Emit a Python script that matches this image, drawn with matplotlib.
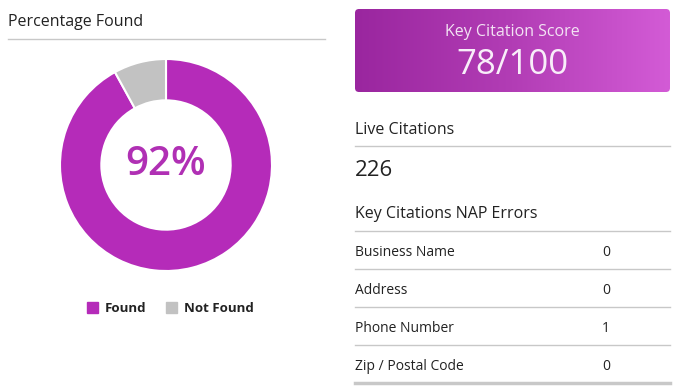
import numpy as np
import matplotlib.pyplot as plt
from matplotlib.patches import FancyBboxPatch, Rectangle
from matplotlib.colors import LinearSegmentedColormap

plt.rcParams['font.family'] = ['Open Sans', 'DejaVu Sans']

# data
found_labels = ["Found", "Not Found"]
found_values = [92, 8]
found_colors = ["#b52bb9", "#c2c2c2"]
score = 78
score_max = 100
live_citations = 226
nap_fields = ["Business Name", "Address", "Phone Number", "Zip / Postal Code"]
nap_errors = [0, 0, 1, 0]

W, H = 678, 389
fig = plt.figure(figsize=(W / 100, H / 100), dpi=100)
fig.patch.set_facecolor("white")

# overlay in pixel coords
ov = fig.add_axes([0, 0, 1, 1])
ov.axis("off")

text_col = "#222222"
line_col = "#c8c8c8"
dy = 2  # small baseline nudge

# left panel title
ov.text(8, 20 + dy, "Percentage Found", fontsize=11.5, color=text_col, va="center")
ov.plot([8, 325], [39, 39], color=line_col, lw=1)

# donut
cx, cy, r = 166, 165, 106
ax = fig.add_axes([(cx - r) / W, 1 - (cy + r) / H, 2 * r / W, 2 * r / H])
ax.pie(found_values, colors=found_colors, startangle=90, counterclock=False,
       wedgeprops=dict(width=0.39, edgecolor="white", linewidth=1.5))
ax.set_xlim(-1, 1)
ax.set_ylim(-1, 1)
ax.set_aspect("equal")
ax.text(0, 0.0, f"{found_values[0]}%", ha="center", va="center",
        fontsize=29, color="#b030b4", fontweight="semibold")

# legend
lx = [87, 166]
for x0, lab, col in zip(lx, found_labels, found_colors):
    ov.add_patch(Rectangle((x0, 302), 11, 11, color=col))
    ov.text(x0 + 18, 307.5 + 1, lab, fontsize=9.5, fontweight="bold",
            color=text_col, va="center")

# score box with gradient
bx0, by0, bx1, by1 = 355, 9, 670, 92
box = FancyBboxPatch((bx0, by0), bx1 - bx0, by1 - by0,
                     boxstyle="round,pad=0,rounding_size=4",
                     facecolor="none", edgecolor="none")
ov.add_patch(box)
grad = np.linspace(0, 1, 256).reshape(1, -1)
cmap = LinearSegmentedColormap.from_list("g", ["#9a269f", "#b23db5", "#d35bd6"])
im = ov.imshow(grad, extent=[bx0, bx1, by1, by0], cmap=cmap, aspect="auto")
im.set_clip_path(box)
ov.set_xlim(0, W)
ov.set_ylim(H, 0)
mid = (bx0 + bx1) / 2
ov.text(mid, 30 + dy, "Key Citation Score", fontsize=11.5, color="#f3e3f4",
        ha="center", va="center")
ov.text(mid, 63 + dy, f"{score}/{score_max}", fontsize=25, color="#f8eef9",
        ha="center", va="center")

# live citations
ov.text(355, 128 + dy, "Live Citations", fontsize=11.5, color=text_col, va="center")
ov.plot([355, 670], [146, 146], color=line_col, lw=1)
ov.text(355, 168 + dy, str(live_citations), fontsize=16, color=text_col, va="center")

# NAP errors table
ov.text(355, 212 + dy, "Key Citations NAP Errors", fontsize=11.5, color=text_col, va="center")
ov.plot([355, 670], [231, 231], color=line_col, lw=1)
row_h = 38
for i, (name, val) in enumerate(zip(nap_fields, nap_errors)):
    yc = 250 + i * row_h
    ov.text(355, yc + dy, name, fontsize=10, color=text_col, va="center")
    ov.text(606, yc + dy, str(val), fontsize=10, color=text_col, va="center", ha="center")
    last = i == len(nap_fields) - 1
    ov.plot([355, 670], [yc + 19, yc + 19], color=line_col, lw=2.5 if last else 1)

fig.savefig("out.png", dpi=100)
